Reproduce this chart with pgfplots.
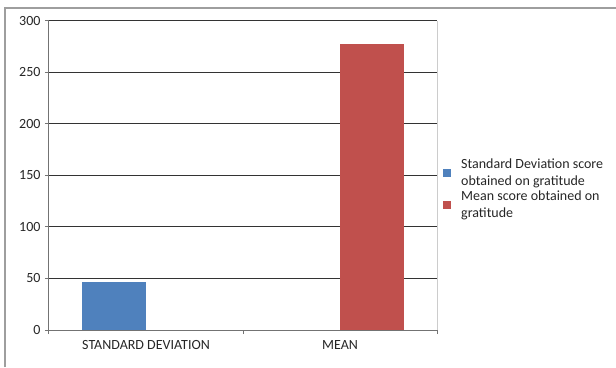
\documentclass[border=0pt]{standalone}
\usepackage{pgfplots}
\pgfplotsset{compat=1.18}
\usepackage{fontspec}
\setmainfont{Carlito}
\definecolor{sdblue}{HTML}{4F81BD}
\definecolor{meanred}{HTML}{C0504D}
\begin{document}
\begin{tikzpicture}
\path[use as bounding box] (-49pt,-37pt) rectangle (567pt,330pt);
\draw[black!38, line width=1.2pt] (-44pt,-37pt) -- (-44pt,322pt) -- (567pt,322pt);
\begin{axis}[
  at={(0pt,0pt)}, anchor=south west,
  scale only axis, width=388pt, height=309pt,
  xmin=-0.5, xmax=1.5, ymin=0, ymax=300,
  axis x line=bottom, axis y line=left,
  axis line style={black!55, line width=1pt, -},
  xtick={0,1}, xticklabels={STANDARD DEVIATION, MEAN},
  minor xtick={-0.5,0.5,1.5},
  ytick={0,50,...,300},
  tick align=outside,
  major tick length=4pt, minor tick length=4pt,
  tick style={black!55, line width=1pt},
  major x tick style={draw=none},
  ymajorgrids, grid style={black!80, line width=1pt},
  /pgf/number format/assume math mode=true,
  ticklabel style={font=\fontsize{14}{16}\selectfont, text=black!85},
  xticklabel style={yshift=-3pt},
  yticklabel style={xshift=-1pt},
  clip=false,
  legend style={at={(1,0.456)}, anchor=west, xshift=6pt, draw=none, fill=none,
    inner sep=0pt, row sep=0pt,
    font=\fontsize{14}{17}\selectfont,
    nodes={align=left, text=black!85, inner xsep=2pt},
    /tikz/every odd column/.append style={column sep=8pt}},
  legend cell align=left,
  legend image code/.code={\fill[#1] (0pt,-4pt) rectangle (8pt,4pt);},
]
\addplot[ybar, bar width=0.33, bar shift=-0.165, fill=sdblue, draw=none] coordinates {(0,46.5)};
\addlegendentry{Standard Deviation score\\obtained on gratitude}
\addplot[ybar, bar width=0.33, bar shift=0.165, fill=meanred, draw=none] coordinates {(1,278)};
\addlegendentry{Mean score obtained on\\gratitude}
\draw[black!20, line width=1pt] (rel axis cs:1,0) -- (rel axis cs:1,1);
\end{axis}
\end{tikzpicture}
\end{document}
